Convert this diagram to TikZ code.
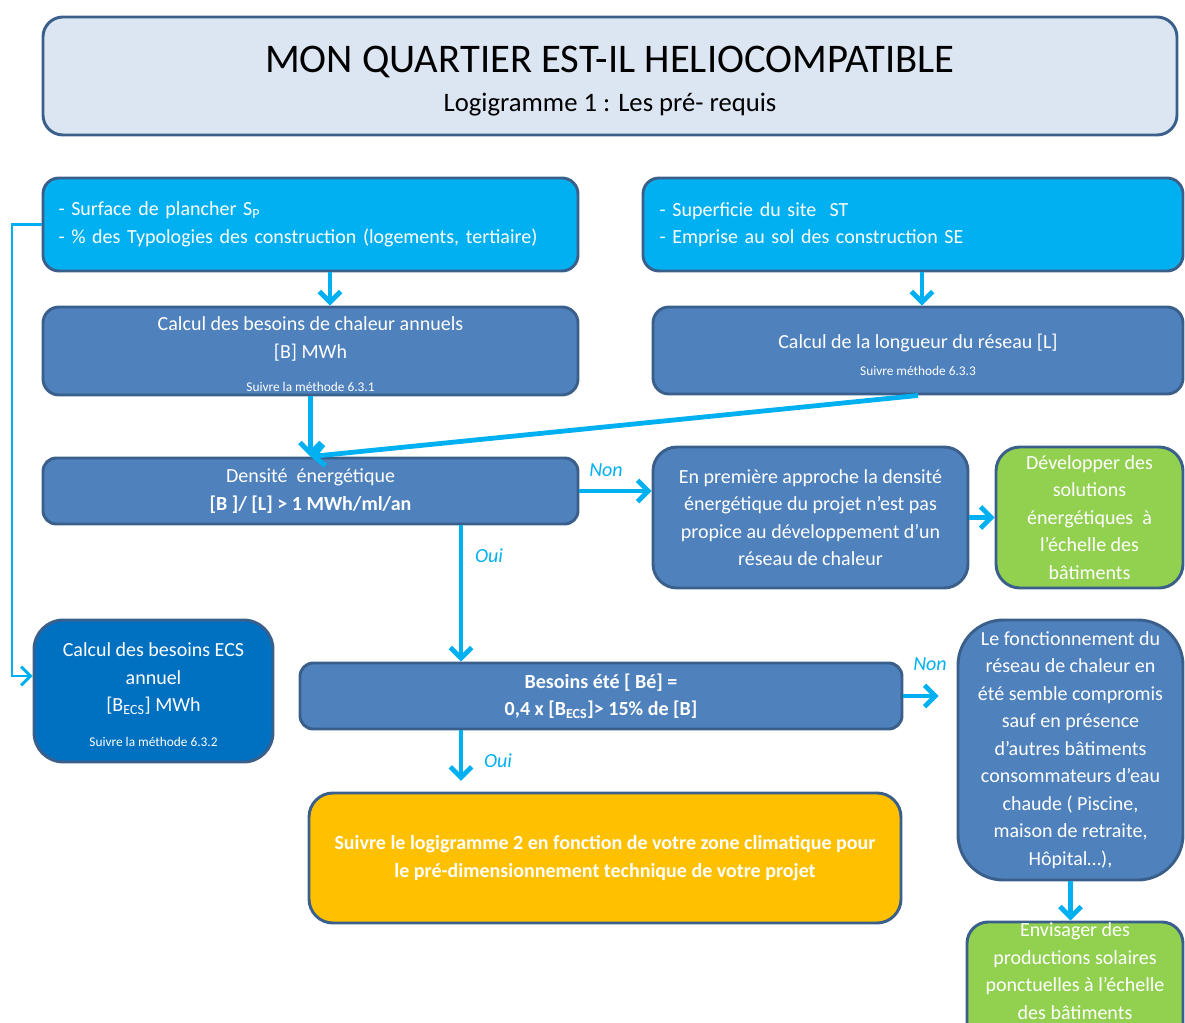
\documentclass[tikz,border=0pt]{standalone}
\usepackage{fontspec}
\setmainfont{Carlito}
\usetikzlibrary{arrows.meta,calc}

\definecolor{cyanbox}{HTML}{00B0F0}
\definecolor{bluebox}{HTML}{4F81BD}
\definecolor{deepbox}{HTML}{0070C0}
\definecolor{greenbox}{HTML}{92D050}
\definecolor{orangebox}{HTML}{FFC000}
\definecolor{titlefill}{HTML}{DCE6F2}
\definecolor{edge}{HTML}{3A5F8B}
\definecolor{flow}{HTML}{00B0F0}

\begin{document}
\begin{tikzpicture}[x=0.75pt,y=-0.75pt,
  box/.style={draw=edge, line width=2.2pt, rounded corners=#1, inner sep=0pt,
              text=white, align=center},
  box/.default=10pt,
  body/.style={font=\fontsize{15}{20.6}\selectfont},
  small/.style={font=\fontsize{10}{11}\selectfont, text=white},
  arr/.style={draw=flow, line width=3.6pt,
              -{Straight Barb[length=8pt,width=16pt]}},
  thinarr/.style={draw=flow, line width=2.2pt,
              -{Straight Barb[length=7pt,width=14pt]}},
  lab/.style={text=flow, font=\itshape\fontsize{15}{16}\selectfont}
]
\path[use as bounding box] (0,0) rectangle (1185,1023);
\clip (0,0) rectangle (1185,1023);

% title banner
\node[box=15pt, fill=titlefill, minimum width=850.5pt, minimum height=88.5pt]
  (title) at (610,76) {};
\node[font=\fontsize{30.5}{36}\selectfont] (titletxt) at (610,62)
  {MON QUARTIER EST-IL HELIOCOMPATIBLE};
\node[font=\fontsize{20}{24}\selectfont] (subtxt) at (610,105)
  {Logigramme 1 : Les pré- requis};

% input boxes
\node[box=12pt, body, fill=cyanbox, minimum width=401.25pt, minimum height=69.75pt,
      text width=378pt, inner xsep=11.6pt, align=left] (tl) at (310.5,224.5)
  {- Surface de plancher S\textsubscript{P}\\
   - \% des Typologies des construction (logements, tertiaire)};
\node[box=12pt, body, fill=cyanbox, minimum width=405pt, minimum height=69.75pt,
      text width=380pt, inner xsep=12.5pt, align=left] (tr) at (913,224.5)
  {- Superficie du site~ ST\\
   - Emprise au sol des construction SE};

% calculation boxes
\node[box=12pt, fill=bluebox, minimum width=401.25pt, minimum height=66pt]
  (chal) at (310.5,351) {};
\node[body, text=white, align=center] (chaltxt) at (310.5,339)
  {Calcul des besoins de chaleur annuels\\ {[B] MWh}};
\node[small] (chalref) at (310.5,387) {Suivre la méthode 6.3.1};

\node[box=12pt, fill=bluebox, minimum width=397.5pt, minimum height=65.25pt]
  (long) at (918,350.5) {};
\node[body, text=white] (longtxt) at (918,343)
  {Calcul de la longueur du réseau [L]};
\node[small] (longref) at (918,371) {Suivre méthode 6.3.3};

% energy density test
\node[box=10pt, body, fill=bluebox, minimum width=401.25pt, minimum height=49.5pt]
  (dens) at (310.5,491)
  {Densité~ énergétique\\ \textbf{[B ]/ [L] > 1 MWh/ml/an}};

\node[box=18pt, body, fill=bluebox, minimum width=236.25pt, minimum height=105.75pt]
  (prem) at (810.5,517.5)
  {En première approche la densité\\ énergétique du projet n’est pas\\
   propice au développement d’un\\ réseau de chaleur};

\node[box=18pt, body, fill=greenbox, minimum width=140.25pt, minimum height=105.75pt]
  (dev) at (1089.5,517.5)
  {Développer des\\ solutions\\ énergétiques~ à\\ l’échelle des\\ bâtiments};

% domestic hot water
\node[box=22pt, fill=deepbox, minimum width=179.25pt, minimum height=106.5pt]
  (ecs) at (153.5,691) {};
\node[body, text=white, align=center] (ecstxt) at (153.5,679)
  {Calcul des besoins ECS\\ annuel\\ {[B\textsubscript{ECS}] MWh}};
\node[small] (ecsref) at (153.5,742)
  {Suivre la méthode 6.3.2};

% summer needs test
\node[box=10pt, body, fill=bluebox, minimum width=451.5pt, minimum height=49.5pt]
  (ete) at (601,696)
  {\textbf{Besoins été [ Bé] =}\\ \textbf{0,4 x [B\textsubscript{ECS}]> 15\% de [B]}};

\node[box=18pt, body, fill=orangebox, minimum width=444pt, minimum height=97.5pt]
  (suiv) at (605,858)
  {\textbf{Suivre le logigramme 2 en fonction de votre zone climatique pour}\\
   \textbf{le pré-dimensionnement technique de votre projet}};

\node[box=34pt, body, fill=bluebox, minimum width=168.75pt, minimum height=195pt]
  (fonc) at (1070.5,750)
  {Le fonctionnement du\\ réseau de chaleur en\\ été semble compromis\\
   sauf en présence\\ d’autres bâtiments\\ consommateurs d’eau\\
   chaude ( Piscine,\\ maison de retraite,\\ Hôpital…),};

\node[box=16pt, fill=greenbox, minimum width=162pt, minimum height=105pt]
  (env) at (1075,992) {};
\node[body, text=white, align=center] (envtxt) at (1075,971)
  {Envisager des\\ productions solaires\\ ponctuelles à l’échelle\\ des bâtiments};

% connectors
\coordinate (lc) at (12,676);
\draw[thinarr] (tl.west) -| (lc) -- (lc -| ecs.west);

\draw[arr] ($(tl.south)+(19.5,0)$) -- ($(chal.north)+(19.5,0)$);
\draw[arr] ($(tr.south)+(9,0)$) -- ($(long.north)+(4,0)$);
\draw[arr] (chal.south) -- (dens.north);
\draw[arr] (long.south) -- (dens.north);

\draw[arr] (dens.east) -- (dens.east -| prem.west);
\node[lab] (non1) at (606,470) {Non};
\draw[arr] (prem.east) -- (dev.west);

\coordinate (oui1) at (461,0);
\draw[arr] (dens.south -| oui1) -- (ete.north -| oui1);
\node[lab] (ouilab1) at (489,556) {Oui};

\draw[arr, shorten >=13.5pt] (ete.east) -- (ete.east -| fonc.west);
\node[lab] (non2) at (930,664) {Non};

\draw[arr, shorten >=8pt] (ete.south -| oui1) -- (suiv.north -| oui1);
\node[lab] (ouilab2) at (498,761) {Oui};

\draw[arr] (fonc.south) -- (fonc.south |- env.north);
\end{tikzpicture}
\end{document}
